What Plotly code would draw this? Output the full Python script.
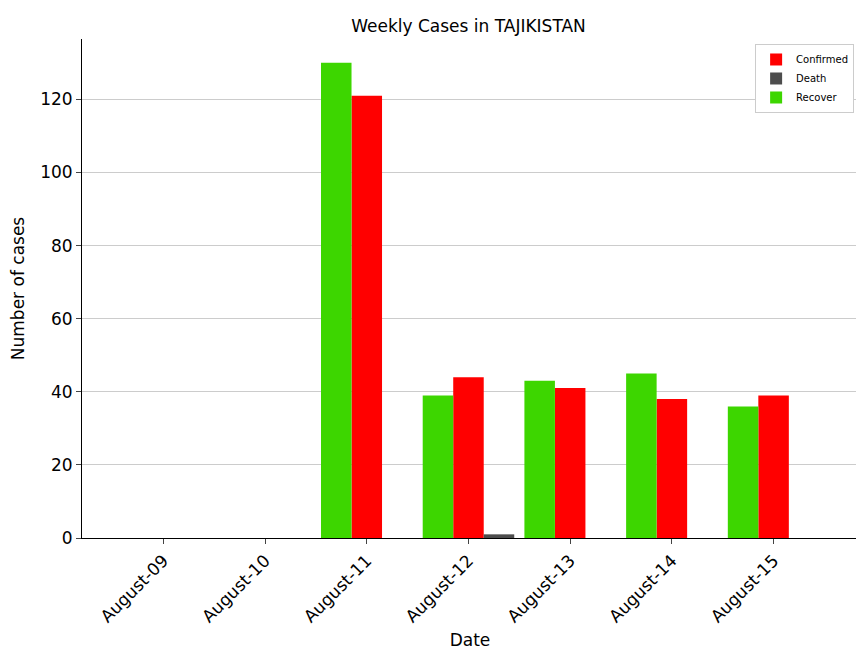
import plotly.graph_objects as go

dates = ["August-09", "August-10", "August-11", "August-12", "August-13", "August-14", "August-15"]
recover = [0, 0, 130, 39, 43, 45, 36]
confirmed = [0, 0, 121, 44, 41, 38, 39]
death = [0, 0, 0, 1, 0, 0, 0]
pos = list(range(len(dates)))

fig = go.Figure()
fig.add_bar(x=pos, y=confirmed, name="Confirmed", marker_color="#ff0000", width=0.3, offset=-0.15, marker_line_width=0)
fig.add_bar(x=pos, y=death, name="Death", marker_color="#4d4d4d", width=0.3, offset=0.15, marker_line_width=0)
fig.add_bar(x=pos, y=recover, name="Recover", marker_color="#3dd600", width=0.3, offset=-0.45, marker_line_width=0)

fig.update_layout(
    width=864, height=648, barmode="overlay",
    plot_bgcolor="white", paper_bgcolor="white",
    font=dict(family="DejaVu Sans", color="black"),
    title=dict(text="Weekly Cases in TAJIKISTAN", x=0.533, xanchor="center", y=0.972, yanchor="middle", font=dict(size=17)),
    margin=dict(l=74, r=14, t=31, b=118),
    legend=dict(x=0.995, y=0.99, xanchor="right", yanchor="top", bordercolor="#cccccc",
                borderwidth=1, font=dict(size=10), bgcolor="white"),
    showlegend=True,
)
fig.update_xaxes(range=[-0.8, 6.83], tickvals=pos, ticktext=dates, tickangle=-45,
                 tickfont=dict(size=17), showline=True, linecolor="black", ticks="outside",
                 showgrid=False, title=dict(text="Date", font=dict(size=17), standoff=8),
                 zeroline=False, automargin=False)
fig.update_yaxes(range=[0, 136.5], dtick=20, tickfont=dict(size=17), showline=True,
                 linecolor="black", ticks="outside", gridcolor="#cccccc", zeroline=False,
                 title=dict(text="Number of cases", font=dict(size=17)), automargin=False)
fig.write_html("out.html")
